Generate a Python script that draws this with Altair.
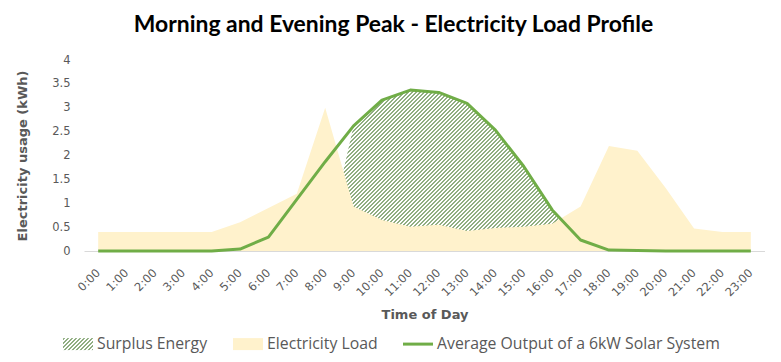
import json
import math
import altair as alt
import pandas as pd

# ---------------- data ----------------
hour_labels = ["0:00", "1:00", "2:00", "3:00", "4:00", "5:00", "6:00", "7:00",
               "8:00", "9:00", "10:00", "11:00", "12:00", "13:00", "14:00", "15:00",
               "16:00", "17:00", "18:00", "19:00", "20:00", "21:00", "22:00", "23:00"]
load = [0.4, 0.4, 0.4, 0.4, 0.4, 0.6, 0.9, 1.2, 3.0, 0.93, 0.65, 0.51,
        0.55, 0.42, 0.48, 0.51, 0.57, 0.93, 2.2, 2.1, 1.32, 0.47, 0.4, 0.4]
solar = [0, 0, 0, 0, 0, 0.04, 0.29, 1.08, 1.87, 2.62, 3.16, 3.37,
         3.32, 3.09, 2.53, 1.77, 0.86, 0.23, 0.02, 0.01, 0, 0, 0, 0]
surplus_labels = ["8:00", "9:00", "10:00", "11:00", "12:00", "13:00",
                  "14:00", "15:00", "16:00", "17:00"]
surplus = [0, 2.62, 3.16, 3.37, 3.32, 3.09, 2.53, 1.77, 0.86, 0]
series = ["Surplus Energy", "Electricity Load", "Average Output of a 6kW Solar System"]
series_colors = ["#8FAE7E", "#FFF2CC", "#70AD47"]
y_ticks = [0, 0.5, 1, 1.5, 2, 2.5, 3, 3.5, 4]

# ---------------- layout ----------------
W, H = 681, 191
Y_MAX = 4
HATCH_FG = "#90AE82"
RECT_PATH = "M-1,-0.4H1V0.4H-1Z"
LINE_PATH = "M-1,-0.1H1V0.1H-1Z"


def hatch(w, h, period=4.0, frac=0.5, fg=HATCH_FG, bg="#FFFFFF"):
    """Diagonal '/' stripes via a hard-stop linear gradient in bbox units."""
    r = h / w
    k = (1 + r) / (1 + r * r)
    span = w + h
    step = period / span
    stops = []
    i = 0
    while i * step < 1:
        a = round(i * step, 5)
        b = round(min(i * step + frac * step, 1), 5)
        stops += [{"offset": a, "color": bg}, {"offset": a, "color": fg},
                  {"offset": b, "color": fg}, {"offset": b, "color": bg}]
        i += 1
    return {"gradient": "linear", "x1": 0, "y1": 0,
            "x2": round(k, 5), "y2": round(k * r, 5), "stops": stops}


# bounding box of surplus area (in pixels) from its data extent
i0 = hour_labels.index(surplus_labels[0])
i1 = hour_labels.index(surplus_labels[-1])
area_w = W * (i1 - i0) / len(hour_labels)
area_h = H * max(surplus) / Y_MAX
area_fill = hatch(area_w, area_h)

legend_grad = hatch(30, 12)
fill_expr = ("datum.value === '%s' ? %s : (datum.value === '%s' ? '%s' : '%s')"
             % (series[0], json.dumps(legend_grad), series[1], series_colors[1], series_colors[2]))

df_main = pd.DataFrame({"time": hour_labels, "load": load, "solar": solar})
df_surplus = pd.DataFrame({"time": surplus_labels, "surplus": surplus})
df_legend = pd.DataFrame({"series": series})

x_enc = alt.X("time:O", sort=hour_labels,
              scale=alt.Scale(type="point", domain=hour_labels, padding=0.5),
              title="Time of Day",
              axis=alt.Axis(labelAngle=-45, labelAlign="right", labelBaseline="middle",
                            labelPadding=20, titlePadding=10))


def y_enc(field):
    return alt.Y(f"{field}:Q", scale=alt.Scale(domain=[0, Y_MAX], nice=False),
                 title="Electricity usage (kWh)",
                 axis=alt.Axis(values=y_ticks, format=".1~f", labelPadding=14, titlePadding=22))


surplus_layer = alt.Chart(df_surplus).mark_area(fill=area_fill, interpolate="linear").encode(
    x=x_enc, y=y_enc("surplus"))
load_layer = alt.Chart(df_main).mark_area(color=series_colors[1], opacity=1).encode(
    x=x_enc, y=y_enc("load"))
solar_layer = alt.Chart(df_main).mark_line(color=series_colors[2], strokeWidth=3,
                                           strokeJoin="round").encode(
    x=x_enc, y=y_enc("solar"))
legend_layer = alt.Chart(df_legend).mark_point(
    filled=True, opacity=1, color={"expr": fill_expr}
).encode(
    shape=alt.Shape("series:N", sort=series,
                    scale=alt.Scale(domain=series, range=[RECT_PATH, RECT_PATH, LINE_PATH]),
                    legend=alt.Legend(
                        title=None, orient="none", direction="horizontal", columns=3,
                        legendX=-21, legendY=269, padding=0,
                        columnPadding=25, labelOffset=4, labelLimit=400,
                        labelFont="Open Sans", labelFontSize=15.8, labelColor="#595959",
                        symbolOpacity=1, symbolSize=900, symbolStrokeWidth=0))
).transform_filter("false")

chart = alt.layer(surplus_layer, load_layer, solar_layer, legend_layer).properties(
    width=W, height=H,
    autosize=alt.AutoSizeParams(type="none"),
    padding={"left": 76, "top": 52, "right": 0, "bottom": 103},
    title=alt.TitleParams(
        "Morning and Evening Peak - Electricity Load Profile",
        font="Lato", fontSize=22.9, fontWeight="bold", color="#000000",
        anchor="middle", dx=-31, offset=17),
).configure_view(stroke=None).configure_axis(
    grid=False, ticks=False,
    labelFont="DejaVu Sans", labelFontSize=11.5, labelColor="#595959",
    titleFont="DejaVu Sans", titleFontSize=13, titleFontWeight="bold", titleColor="#595959",
).configure_axisY(domain=False).configure_axisX(domainColor="#D9D9D9", domainWidth=1.2)

chart.save("out.html", embed_options={"renderer": "svg", "actions": False})
